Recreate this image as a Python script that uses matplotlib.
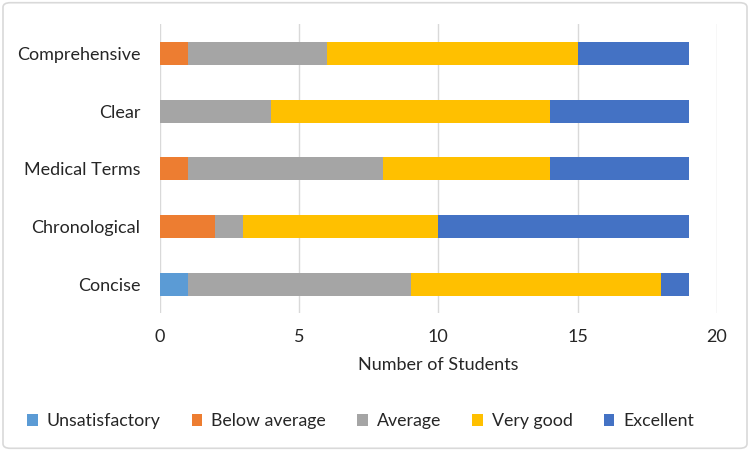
import matplotlib.pyplot as plt
import numpy as np
from matplotlib.patches import FancyBboxPatch

categories = ['Comprehensive', 'Clear', 'Medical Terms', 'Chronological', 'Concise']
ratings = ['Unsatisfactory', 'Below average', 'Average', 'Very good', 'Excellent']
unsatisfactory = [0, 0, 0, 0, 1]
below_average = [1, 0, 1, 2, 0]
average = [5, 4, 7, 1, 8]
very_good = [9, 10, 6, 7, 9]
excellent = [4, 5, 5, 9, 1]
colors = ['#5B9BD5', '#ED7D31', '#A5A5A5', '#FFC000', '#4472C4']

plt.rcParams['font.family'] = ['Lato', 'DejaVu Sans']

fig = plt.figure(figsize=(7.5, 4.51), dpi=100)
ax = fig.add_axes([0.213, 0.305, 0.743, 0.641])

y = np.arange(len(categories))[::-1]
left = np.zeros(len(categories))
for name, vals, c in zip(ratings, [unsatisfactory, below_average, average, very_good, excellent], colors):
    ax.barh(y, vals, left=left, height=0.4, color=c, label=name, zorder=3)
    left += np.array(vals)

ax.set_xlim(0, 20)
ax.set_ylim(-0.5, 4.5)
ax.set_xticks([0, 5, 10, 15, 20])
ax.set_yticks(y)
ax.set_yticklabels(categories)
ax.tick_params(length=0, labelsize=13, colors='#262626')
ax.tick_params(axis='y', pad=14)
ax.tick_params(axis='x', pad=11)
ax.grid(axis='x', color='#d9d9d9', linewidth=1, zorder=0)
for s in ax.spines.values():
    s.set_visible(False)
ax.set_xlabel('Number of Students', fontsize=13, color='#262626', labelpad=9)

leg = ax.legend(loc='center', bbox_to_anchor=(0.481, 0.066), bbox_transform=fig.transFigure,
                frameon=False, ncol=5, fontsize=12.8, handlelength=0.6, handleheight=0.6,
                handletextpad=0.5, columnspacing=1.75)
for t in leg.get_texts():
    t.set_color('#262626')

fig.patches.append(FancyBboxPatch((0.004, 0.006), 0.992, 0.988, boxstyle='round,pad=0,rounding_size=0.01',
                                  transform=fig.transFigure, fill=False, edgecolor='#d9d9d9', linewidth=1.2))

fig.savefig('out.png', dpi=100)
